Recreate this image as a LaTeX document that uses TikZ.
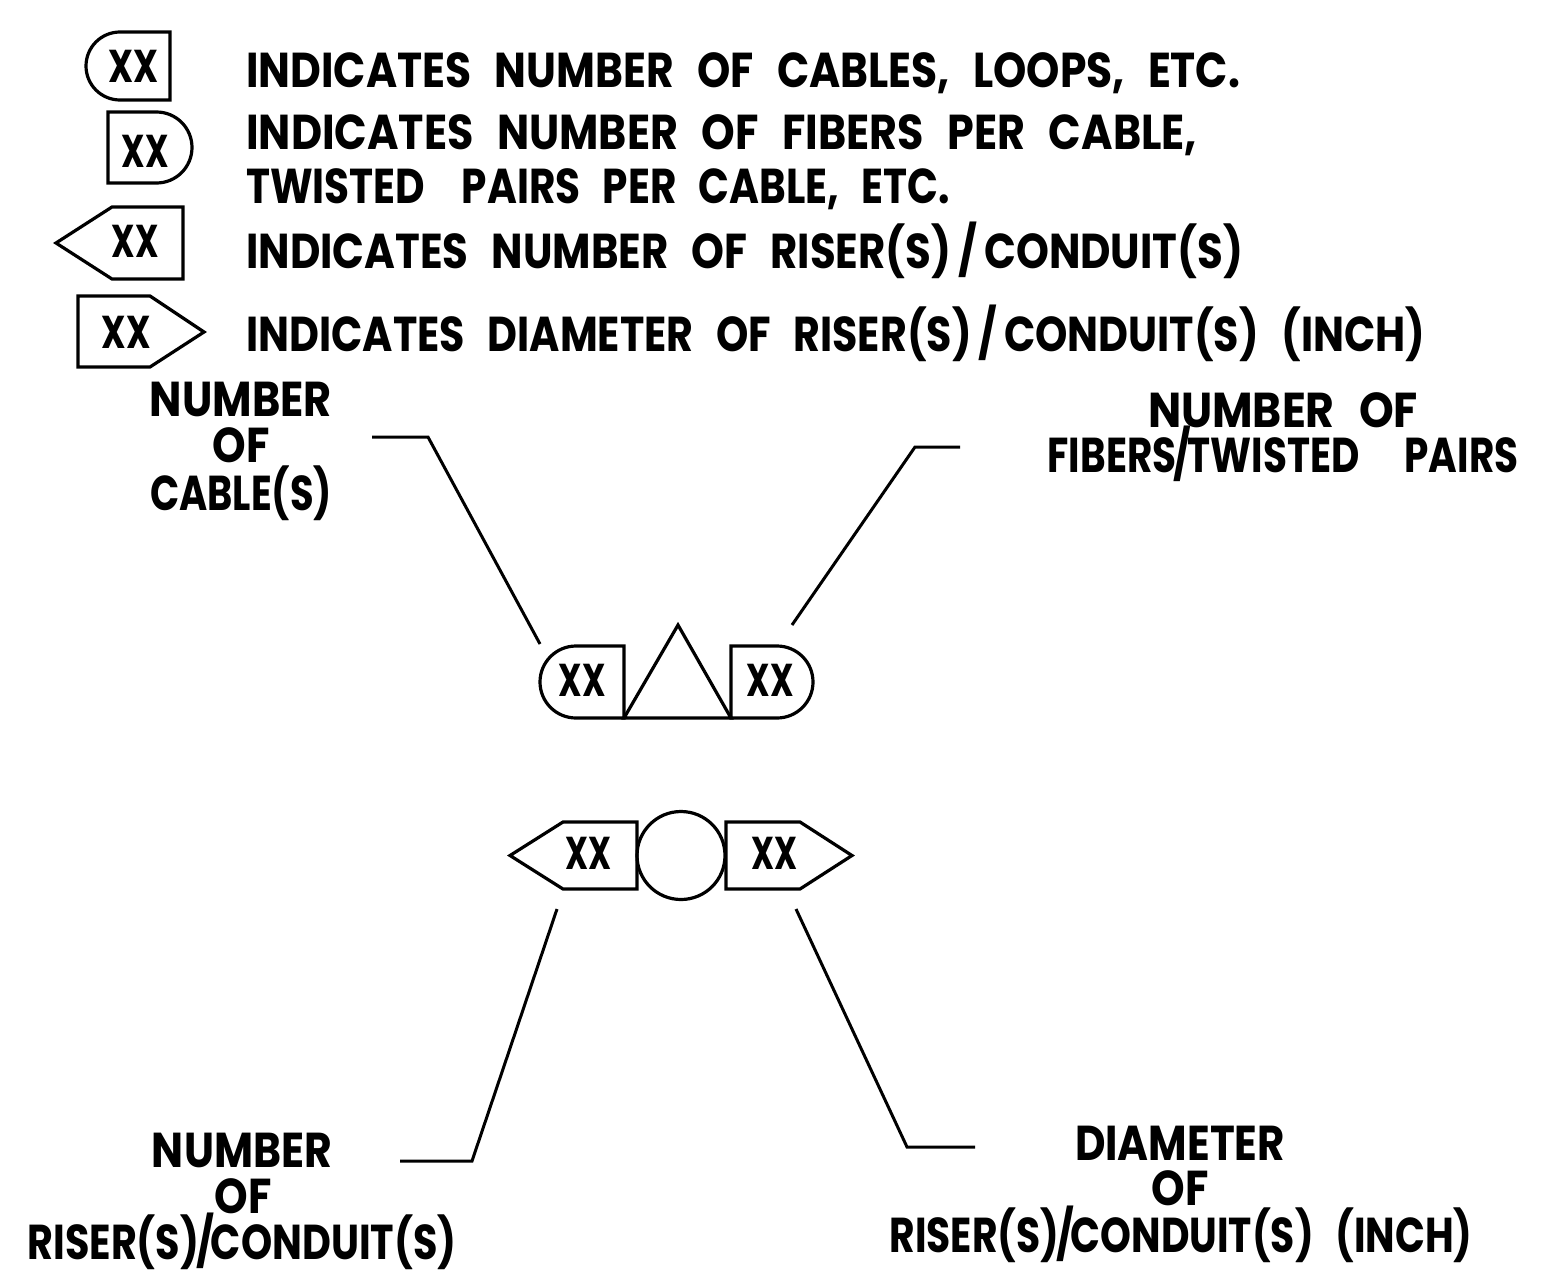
\documentclass[tikz,border=0pt]{standalone}
\usepackage{fontspec}
\usepackage{graphicx}
\setmainfont{Poppins}
\newcommand\fitt[2]{\resizebox{#1pt}{\height}{\spaceskip=0.55em\relax #2}}
\newcommand\tsl{\kern-0.08em/\kern-0.08em}
\tikzset{
  lw/.style={line width=3.2pt, line join=miter},
  leg/.style={inner sep=0pt, anchor=base west, font=\fontsize{49}{52}\selectfont\bfseries},
  lab/.style={inner sep=0pt, anchor=base, font=\fontsize{49}{52}\selectfont\bfseries},
  xx/.style={inner sep=0pt, anchor=center, font=\fontsize{46}{48}\selectfont\bfseries},
  leader/.style={line width=3pt}
}
\begin{document}
\begin{tikzpicture}[x=1pt,y=1pt]
\useasboundingbox (0,0) rectangle (1568,-1274);
\fill[white] (0,0) rectangle (1568,-1274);
% ---------- legend symbols ----------
\draw[lw] (170,-32) -- (170,-100) -- (120,-100) arc[start angle=270, end angle=90, radius=34pt] -- cycle;
\node[xx] (x1) at (133,-66) {\fitt{50}{XX}};
\draw[lw] (108,-112) -- (156.5,-112) arc[start angle=90, end angle=-90, radius=35.5pt] -- (108,-183) -- cycle;
\node[xx] (x2) at (145,-151) {\fitt{47}{XX}};
\draw[lw] (183,-207) -- (112,-207) -- (56,-243) -- (112,-279) -- (183,-279) -- cycle;
\node[xx] (x3) at (135,-241) {\fitt{47}{XX}};
\draw[lw] (78,-296) -- (150,-296) -- (204,-332) -- (150,-367) -- (78,-367) -- cycle;
\node[xx] (x4) at (126,-332) {\fitt{49}{XX}};
% ---------- legend texts ----------
\node[leg] (t1) at (246,-87) {\fitt{994}{INDICATES NUMBER OF CABLES, LOOPS, ETC.}};
\node[leg] (t2) at (246,-149) {\fitt{951}{INDICATES NUMBER OF FIBERS PER CABLE,}};
\node[leg] (t3) at (246,-203) {\fitt{704}{TWISTED\hspace{0.35em} PAIRS PER CABLE, ETC.}};
\node[leg] (t4) at (246,-268) {\fitt{997}{INDICATES NUMBER OF RISER(S)\,/\,CONDUIT(S)}};
\node[leg] (t5) at (246,-351) {\fitt{1179}{INDICATES DIAMETER OF RISER(S)\,/\,CONDUIT(S) (INCH)}};
% ---------- upper group ----------
\draw[lw] (624,-646) -- (624,-718) -- (576,-718) arc[start angle=270, end angle=90, radius=36pt] -- cycle;
\node[xx] (ca) at (582,-680) {\fitt{47}{XX}};
\draw[lw] (624,-718) -- (678,-625) -- (731,-718) -- cycle;
\node[inner sep=0pt] (tri) at (678,-688) {};
\draw[lw] (731,-646) -- (777,-646) arc[start angle=90, end angle=-90, radius=36pt] -- (731,-718) -- cycle;
\node[xx] (fb) at (770,-680) {\fitt{47}{XX}};
% ---------- lower group ----------
\draw[lw] (637,-822) -- (563,-822) -- (510,-855.5) -- (563,-889) -- (637,-889) -- cycle;
\node[xx] (rn) at (588,-853) {\fitt{46}{XX}};
\node[draw, lw, circle, minimum size=88pt, inner sep=0pt] (circ) at (681,-855.5) {};
\draw[lw] (726,-822) -- (800,-822) -- (852,-855.5) -- (800,-889) -- (726,-889) -- cycle;
\node[xx] (rd) at (774,-853) {\fitt{46}{XX}};
% ---------- labels ----------
\node[lab] (l1a) at (241,-416) {\fitt{182}{NUMBER}};
\node[lab] (l1b) at (241,-462) {\fitt{57}{OF}};
\node[lab] (l1c) at (241,-510) {\fitt{182}{CABLE(S)}};
\node[lab] (l2a) at (1283,-427) {\fitt{270}{NUMBER OF}};
\node[lab] (l2b) at (1283,-472) {\fitt{471}{FIBERS\tsl TWISTED\hspace{0.6em} PAIRS}};
\node[lab] (l3a) at (242,-1167) {\fitt{180}{NUMBER}};
\node[lab] (l3b) at (243,-1213) {\fitt{57}{OF}};
\node[lab] (l3c) at (242,-1259) {\fitt{429}{RISER(S)\tsl CONDUIT(S)}};
\node[lab] (l4a) at (1180,-1160) {\fitt{210}{DIAMETER}};
\node[lab] (l4b) at (1180,-1205) {\fitt{57}{OF}};
\node[lab] (l4c) at (1181,-1252) {\fitt{583}{RISER(S)\tsl CONDUIT(S) (INCH)}};
% ---------- leaders ----------
\coordinate (p1s) at (372,-437); \coordinate (p1k) at (428,-437); \coordinate (p1e) at (540,-644);
\coordinate (p2s) at (960,-447); \coordinate (p2k) at (915,-447); \coordinate (p2e) at (792,-625);
\coordinate (p3s) at (400,-1161); \coordinate (p3k) at (472,-1161); \coordinate (p3e) at (557,-909);
\coordinate (p4s) at (975,-1147); \coordinate (p4k) at (907,-1147); \coordinate (p4e) at (796,-909);
\draw[leader] (p1s) -- (p1k) -- (p1e);
\draw[leader] (p2s) -- (p2k) -- (p2e);
\draw[leader] (p3s) -- (p3k) -- (p3e);
\draw[leader] (p4s) -- (p4k) -- (p4e);
\end{tikzpicture}
\end{document}
